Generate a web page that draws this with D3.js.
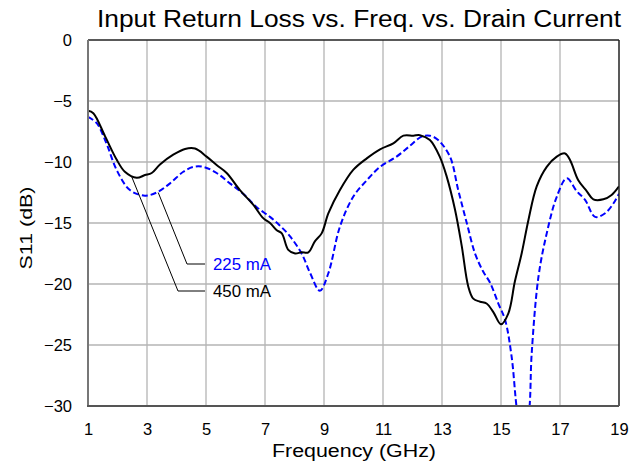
<!DOCTYPE html>
<html><head><meta charset="utf-8">
<script src="https://cdn.jsdelivr.net/npm/d3@7"></script>
<style>body{margin:0;background:#fff}svg{font-family:"Liberation Sans",Arial,sans-serif}</style>
</head><body><svg id="c" width="642" height="469"></svg>
<script>
const xTicks = [1,3,5,7,9,11,13,15,17,19];
const yTicks = [0,-5,-10,-15,-20,-25,-30];
const seriesNames = ["225 mA","450 mA"];
const freq450 = [1,1.18,1.58,1.97,2.25,2.65,2.93,3.16,3.44,3.89,4.29,4.63,5.02,5.36,5.7,6.15,6.6,6.94,7.17,7.4,7.57,7.79,8.02,8.24,8.47,8.69,8.92,9.15,9.54,9.99,10.45,10.9,11.35,11.69,12.03,12.25,12.59,12.93,13.16,13.44,13.67,13.89,14.06,14.29,14.51,14.74,15.0,15.25,15.47,15.7,15.93,16.21,16.55,16.89,17.17,17.34,17.62,17.91,18.13,18.47,18.75,19];
const s11_450 = [-5.8,-6.0,-7.9,-9.8,-10.8,-11.3,-11.07,-10.9,-10.2,-9.4,-8.93,-8.9,-9.56,-10.25,-10.9,-12.3,-13.5,-14.6,-15.0,-15.6,-15.85,-17.2,-17.5,-17.4,-17.4,-16.5,-15.85,-14.2,-12.3,-10.65,-9.7,-8.96,-8.47,-7.84,-7.84,-7.8,-8.2,-9.6,-11.2,-13.9,-16.9,-20.2,-21.2,-21.45,-21.6,-22.3,-23.3,-22.4,-19.8,-17.5,-14.75,-12.0,-10.4,-9.56,-9.3,-9.84,-11.5,-12.4,-13.06,-13.06,-12.7,-12.0];
const freq225 = [1,1.29,1.63,1.97,2.42,2.93,3.33,3.78,4.23,4.57,4.91,5.36,5.81,6.26,6.72,7.17,7.5,7.85,8.24,8.53,8.86,9.15,9.54,9.99,10.45,10.9,11.46,11.92,12.31,12.59,12.87,13.27,13.55,13.84,14.12,14.4,14.63,14.91,15.14,15.36,15.55,15.75,15.95,16.04,16.27,16.55,16.89,17.23,17.57,17.85,18.19,18.53,18.81,19];
const s11_225 = [-6.3,-6.8,-8.5,-10.65,-12.3,-12.76,-12.5,-11.75,-10.8,-10.4,-10.4,-10.9,-11.75,-12.6,-13.7,-14.5,-15.2,-16.1,-17.5,-19.1,-20.55,-19.1,-15.3,-12.85,-11.5,-10.4,-9.56,-8.66,-7.92,-7.84,-8.2,-9.56,-12.3,-15.0,-17.5,-19.0,-19.9,-21.6,-22.95,-25.95,-30.5,-33,-30.5,-25.7,-19.4,-15.85,-12.85,-11.34,-12.4,-13.1,-14.5,-14.2,-13.4,-12.6];

const svg = d3.select("#c");
const L=88,R=619,T=40,B=406;
const x = d3.scaleLinear().domain([1,19]).range([L,R]);
const y = d3.scaleLinear().domain([-30,0]).range([B,T]);

// grid
svg.append("g").selectAll("line").data(xTicks.slice(1,-1)).join("line")
  .attr("x1",d=>x(d)).attr("x2",d=>x(d)).attr("y1",T).attr("y2",B)
  .attr("stroke","#b4b4b4").attr("stroke-width",1.3);
svg.append("g").selectAll("line").data(yTicks.slice(1,-1)).join("line")
  .attr("y1",d=>y(d)).attr("y2",d=>y(d)).attr("x1",L).attr("x2",R)
  .attr("stroke","#b4b4b4").attr("stroke-width",1.3);

const ax = svg.append("g").attr("transform",`translate(0,${B})`)
  .call(d3.axisBottom(x).tickValues(xTicks).tickSize(0).tickPadding(17).tickFormat(d3.format("d")));
ax.select(".domain").remove();
ax.selectAll("text").attr("font-size",16.5).attr("fill","#000").attr("font-family","Liberation Sans, Arial, sans-serif");
const ay = svg.append("g").attr("transform",`translate(${L},0)`)
  .call(d3.axisLeft(y).tickValues(yTicks).tickSize(0).tickPadding(16).tickFormat(d3.format("d")));
ay.select(".domain").remove();
ay.selectAll("text").attr("font-size",16.5).attr("fill","#000").attr("font-family","Liberation Sans, Arial, sans-serif");

svg.append("clipPath").attr("id","clip").append("rect").attr("x",L).attr("y",T).attr("width",R-L).attr("height",B-T);

const line = d3.line().curve(d3.curveCatmullRom.alpha(0.5)).x(d=>x(d[0])).y(d=>y(d[1]));
const d225 = freq225.map((f,i)=>[f,s11_225[i]]);
const d450 = freq450.map((f,i)=>[f,s11_450[i]]);
const gC = svg.append("g").attr("clip-path","url(#clip)");
gC.append("path").attr("d",line(d225)).attr("fill","none").attr("stroke","#0000ff").attr("stroke-width",2).attr("stroke-dasharray","6,3");
gC.append("path").attr("d",line(d450)).attr("fill","none").attr("stroke","#000").attr("stroke-width",2);

// frame
svg.append("line").attr("x1",L).attr("x2",R).attr("y1",T).attr("y2",T).attr("stroke","#222").attr("stroke-width",1.5);
svg.append("line").attr("x1",R).attr("x2",R).attr("y1",T).attr("y2",B).attr("stroke","#222").attr("stroke-width",1.5);
svg.append("line").attr("x1",L).attr("x2",L).attr("y1",T).attr("y2",B).attr("stroke","#777").attr("stroke-width",2);
svg.append("line").attr("x1",L-1).attr("x2",R).attr("y1",B).attr("y2",B).attr("stroke","#555").attr("stroke-width",2);

const ann = [
  {name:seriesNames[0], f:3.38, v:-12.5, ex:187, ey:264, tx:205, col:"#0000ff"},
  {name:seriesNames[1], f:2.48, v:-11.2, ex:178, ey:291, tx:205, col:"#000"}
];
ann.forEach(a=>{
  svg.append("polyline").attr("points",`${x(a.f)},${y(a.v)} ${a.ex},${a.ey} ${a.tx},${a.ey}`)
    .attr("fill","none").attr("stroke","#000").attr("stroke-width",1);
  svg.append("text").attr("x",a.tx+8).attr("y",a.ey+6).attr("font-size",16)
    .attr("textLength",58).attr("lengthAdjust","spacingAndGlyphs").attr("fill",a.col).text(a.name);
});

svg.append("text").attr("x",359).attr("y",27).attr("text-anchor","middle").attr("font-size",23.5)
  .attr("textLength",524).attr("lengthAdjust","spacingAndGlyphs").text("Input Return Loss vs. Freq. vs. Drain Current");
svg.append("text").attr("x",354).attr("y",457).attr("text-anchor","middle").attr("font-size",18)
  .attr("textLength",164).attr("lengthAdjust","spacingAndGlyphs").text("Frequency (GHz)");
svg.append("text").attr("transform","translate(32,228) rotate(-90)").attr("text-anchor","middle").attr("font-size",17)
  .attr("textLength",83).attr("lengthAdjust","spacingAndGlyphs").text("S11 (dB)");
</script></body></html>
